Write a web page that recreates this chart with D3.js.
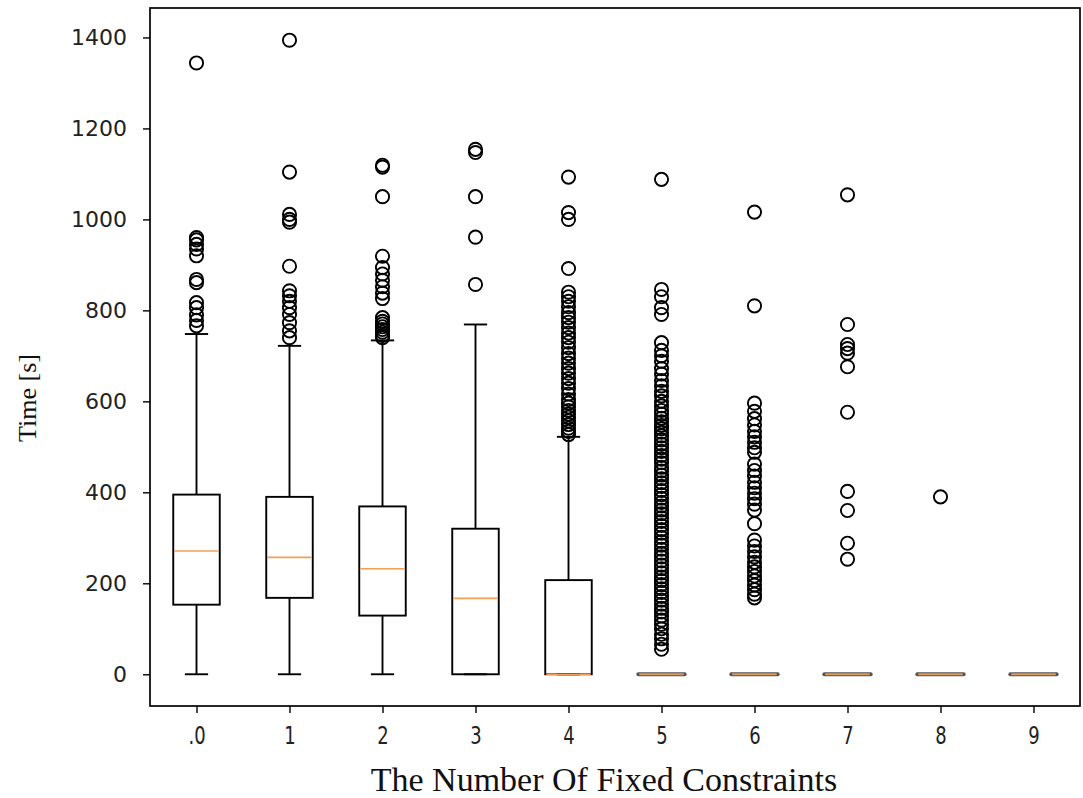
<!DOCTYPE html>
<html>
<head>
<meta charset="utf-8">
<script src="https://cdn.jsdelivr.net/npm/d3@7"></script>
<style>
  body { margin: 0; background: #fff; }
  svg { display: block; }
</style>
</head>
<body>
<div id="chart"></div>
<script>
// box statistics per group
const categories = [0, 1, 2, 3, 4, 5, 6, 7, 8, 9];
const tickLabels = ['.0', '1', '2', '3', '4', '5', '6', '7', '8', '9'];
const q1 = [153, 168, 129, 0, 0, 0, 0, 0, 0, 0];
const medians = [271, 257, 232, 167, 0, 0, 0, 0, 0, 0];
const q3 = [395, 390, 369, 320, 207, 0, 0, 0, 0, 0];
const whiskerLow = [0, 0, 0, 0, 0, 0, 0, 0, 0, 0];
const whiskerHigh = [748, 722, 734, 769, 522, 0, 0, 0, 0, 0];
const outliers = [
    [1344, 960, 955, 945, 935, 920, 868, 861, 817, 806, 790, 778, 766],
    [1394, 1104, 1011, 1000, 994, 897, 843, 832, 820, 806, 791, 773, 755, 740],
    [1119, 1115, 1050, 919, 894, 880, 866, 852, 838, 826, 784, 776, 770, 764, 758, 752, 745, 740],
    [1154, 1147, 1050, 961, 857],
    [1093, 1015, 1000, 892, 840, 830, 820, 808, 795, 784, 774, 762, 750, 740, 730, 718, 705, 695,
     684, 672, 662, 650, 640, 628, 616, 604, 596, 588, 580, 572, 565, 557, 549, 541, 534, 527],
    [1088, 846, 830, 806, 791, 729, 712, 700, 688, 672, 660, 646, 634, 622, 612, 600, 590, 580,
     572, 563, 555, 547, 540, 532, 524, 515, 506, 498, 490, 481, 473, 465, 455, 447, 438, 430,
     421, 413, 404, 395, 387, 378, 370, 361, 353, 344, 336, 327, 318, 310, 301, 292, 284, 275,
     266, 258, 249, 240, 232, 223, 214, 206, 197, 188, 180, 171, 163, 154, 145, 137, 128, 119,
     110, 100, 88, 78, 66, 55],
    [1016, 810, 596, 578, 562, 548, 534, 522, 510, 498, 488, 462, 448, 436, 422, 410, 398, 386,
     374, 361, 331, 295, 282, 270, 258, 246, 236, 226, 216, 206, 196, 186, 176, 168],
    [1054, 769, 725, 716, 706, 676, 576, 402, 360, 288, 253],
    [390],
    []
];
const yTicks = [0, 200, 400, 600, 800, 1000, 1200, 1400];

const W = 1083, H = 798;
const margin = {top: 8, right: 3, bottom: 92, left: 150};
const width = W - margin.left - margin.right;
const height = H - margin.top - margin.bottom;

const svg = d3.select('#chart').append('svg')
    .attr('width', W)
    .attr('height', H);

const g = svg.append('g')
    .attr('transform', `translate(${margin.left},${margin.top})`);

// matplotlib style positions with 0.5 padding on each side
const x = d3.scaleLinear().domain([-0.5, 9.5]).range([0, width]);
const y = d3.scaleLinear().domain([-69.75, 1464.75]).range([height, 0]);
const unit = x(1) - x(0);
const boxW = unit * 0.5;
const capW = unit * 0.25;
const lw = 1.9;

categories.forEach((c, i) => {
    let cx = x(c);
    let grp = g.append('g').attr('class', 'box');

    // whiskers
    grp.append('line')
        .attr('x1', cx).attr('x2', cx)
        .attr('y1', y(q3[i])).attr('y2', y(whiskerHigh[i]))
        .attr('stroke', '#000').attr('stroke-width', lw);
    grp.append('line')
        .attr('x1', cx).attr('x2', cx)
        .attr('y1', y(q1[i])).attr('y2', y(whiskerLow[i]))
        .attr('stroke', '#000').attr('stroke-width', lw);
    // caps
    [whiskerHigh[i], whiskerLow[i]].forEach(v => {
        grp.append('line')
            .attr('x1', cx - capW / 2).attr('x2', cx + capW / 2)
            .attr('y1', y(v)).attr('y2', y(v))
            .attr('stroke', '#000').attr('stroke-width', lw);
    });
    // box
    if (q3[i] > q1[i]) {
        grp.append('rect')
            .attr('x', cx - boxW / 2)
            .attr('y', y(q3[i]))
            .attr('width', boxW)
            .attr('height', y(q1[i]) - y(q3[i]))
            .attr('fill', 'none')
            .attr('stroke', '#000').attr('stroke-width', lw);
    } else {
        // collapsed box: a flat dark line under the median
        grp.append('line')
            .attr('x1', cx - boxW / 2).attr('x2', cx + boxW / 2)
            .attr('y1', y(q3[i])).attr('y2', y(q3[i]))
            .attr('stroke', '#555').attr('stroke-width', 3.8)
            .attr('stroke-linecap', 'round');
    }
    // median
    grp.append('line')
        .attr('x1', cx - boxW / 2 + 1).attr('x2', cx + boxW / 2 - 1)
        .attr('y1', y(medians[i])).attr('y2', y(medians[i]))
        .attr('stroke', q3[i] === 0 ? '#d99a5e' : '#f2a056')
        .attr('stroke-width', q3[i] === 0 ? 2.2 : 1.7);

    // fliers
    grp.selectAll('circle')
        .data(outliers[i])
        .enter().append('circle')
        .attr('cx', cx)
        .attr('cy', d => y(d))
        .attr('r', 6.6)
        .attr('fill', 'none')
        .attr('stroke', '#000')
        .attr('stroke-width', 1.9);
});

// frame
g.append('rect')
    .attr('x', 0).attr('y', 0)
    .attr('width', width).attr('height', height)
    .attr('fill', 'none')
    .attr('stroke', '#000')
    .attr('stroke-width', 1.7);

// y axis
let yAxis = d3.axisLeft(y).tickValues(yTicks).tickFormat(d3.format('d')).tickSize(7).tickPadding(16);
let yg = g.append('g').call(yAxis);
yg.select('.domain').remove();
yg.selectAll('line').attr('stroke-width', 1.4);
yg.selectAll('text')
    .attr('font-family', 'DejaVu Sans')
    .attr('font-size', 22)
    .attr('fill', '#222');

// x axis
let xAxis = d3.axisBottom(x).tickValues(categories).tickFormat((d, i) => tickLabels[i]).tickSize(7).tickPadding(13);
let xg = g.append('g').attr('transform', `translate(0,${height})`).call(xAxis);
xg.select('.domain').remove();
xg.selectAll('line').attr('stroke-width', 1.4);
xg.selectAll('.tick text')
    .attr('font-family', 'DejaVu Sans')
    .attr('font-size', 25)
    .attr('fill', '#222')
    .attr('transform', 'scale(0.72,1)');

// axis titles
svg.append('text')
    .attr('x', 604)
    .attr('y', 791)
    .attr('text-anchor', 'middle')
    .attr('font-family', 'Liberation Serif')
    .attr('font-size', 34)
    .attr('fill', '#111')
    .text('The Number Of Fixed Constraints');

svg.append('text')
    .attr('transform', 'translate(36, 398) rotate(-90)')
    .attr('text-anchor', 'middle')
    .attr('font-family', 'Liberation Serif')
    .attr('font-size', 26)
    .attr('fill', '#111')
    .text('Time [s]');
</script>
</body>
</html>
